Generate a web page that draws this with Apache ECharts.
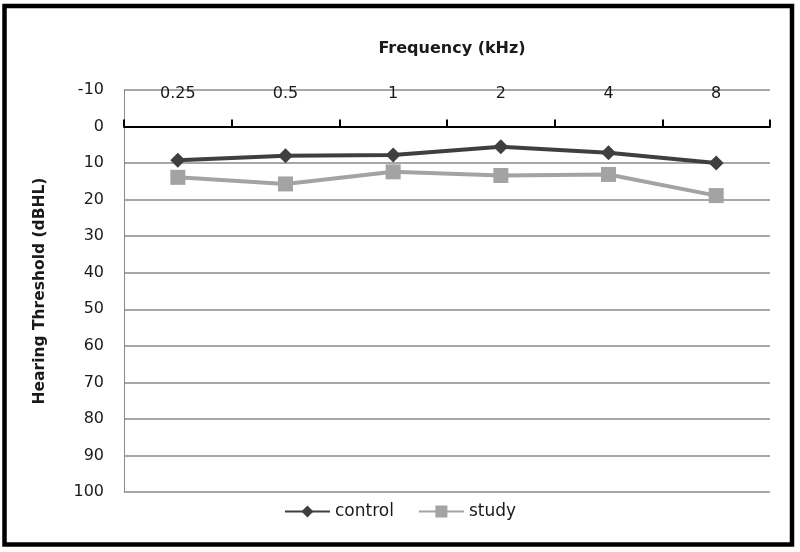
<!DOCTYPE html>
<html>
<head>
<meta charset="utf-8">
<script src="https://cdn.jsdelivr.net/npm/echarts@6/dist/echarts.min.js"></script>
<style>
  html, body { margin: 0; padding: 0; background: #fff; }
  #chart { width: 800px; height: 552px; }
</style>
</head>
<body>
<div id="chart"></div>
<script>
// frequencies (kHz)
const categories = ['0.25', '0.5', '1', '2', '4', '8'];
// hearing thresholds (dBHL)
const control = [9.2, 8, 7.8, 5.5, 7.2, 10];
const study = [13.9, 15.7, 12.4, 13.4, 13.1, 18.9];

const FONT = 'DejaVu Sans';
const TEXT = '#1a1a1a';

const chart = echarts.init(document.getElementById('chart'));

chart.setOption({
  backgroundColor: '#fff',
  animation: false,
  textStyle: { fontFamily: FONT },
  title: {
    text: 'Frequency (kHz)',
    left: 447,
    textAlign: 'center',
    top: 36,
    textStyle: { fontFamily: FONT, fontSize: 16, fontWeight: 'bold', color: TEXT }
  },
  legend: {
    bottom: 27,
    left: 'center',
    itemWidth: 45,
    itemHeight: 15,
    itemGap: 24,
    textStyle: { fontFamily: FONT, fontSize: 17, color: TEXT },
    data: ['control', 'study']
  },
  grid: { left: 124, right: 30, top: 90, bottom: 60 },
  xAxis: {
    type: 'category',
    position: 'top',
    data: categories,
    boundaryGap: true,
    axisLine: { onZero: true, lineStyle: { color: '#000', width: 2 } },
    axisTick: { show: true, length: 7, alignWithLabel: false, lineStyle: { color: '#000', width: 2 } },
    axisLabel: { margin: -12, fontSize: 16, color: TEXT, fontFamily: FONT },
    splitLine: { show: false }
  },
  yAxis: {
    type: 'value',
    inverse: true,
    min: -10,
    max: 100,
    interval: 10,
    name: 'Hearing Threshold (dBHL)',
    nameLocation: 'middle',
    nameRotate: 90,
    nameGap: 76,
    nameTextStyle: { fontFamily: FONT, fontSize: 15.5, fontWeight: 'bold', color: TEXT },
    axisLine: { show: true, lineStyle: { color: '#8a8a8a', width: 1 } },
    axisTick: { show: false },
    axisLabel: { margin: 20, fontSize: 16, color: TEXT, fontFamily: FONT },
    splitLine: { show: true, lineStyle: { color: '#8a8a8a', width: 1.5 } }
  },
  series: [
    {
      name: 'control',
      type: 'line',
      data: control,
      symbol: 'diamond',
      symbolSize: 15,
      color: '#3f3f3f',
      lineStyle: { width: 4, color: '#3f3f3f' },
      itemStyle: { color: '#3f3f3f' },
      z: 3
    },
    {
      name: 'study',
      type: 'line',
      data: study,
      symbol: 'rect',
      symbolSize: 15,
      color: '#a3a3a3',
      lineStyle: { width: 4, color: '#a3a3a3' },
      itemStyle: { color: '#a3a3a3' },
      z: 2
    }
  ],
  graphic: [
    {
      type: 'rect',
      shape: { x: 4.5, y: 6, width: 787.5, height: 538.5 },
      style: { fill: 'none', stroke: '#000', lineWidth: 4.5 },
      silent: true
    }
  ]
});
</script>
</body>
</html>
